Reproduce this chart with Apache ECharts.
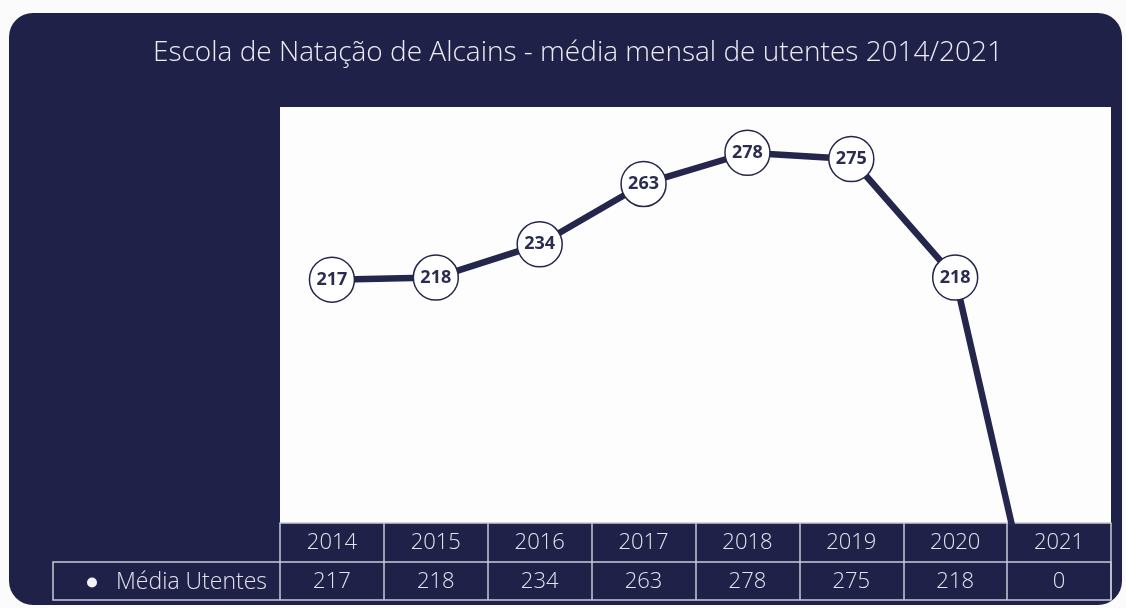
<!DOCTYPE html>
<html>
<head>
<meta charset="utf-8">
<script src="https://cdn.jsdelivr.net/npm/echarts@6/dist/echarts.min.js"></script>
<style>
  html, body { margin: 0; padding: 0; background: #fbfbfb; }
  .card {
    position: absolute; left: 9px; top: 13px; width: 1113px; height: 592px;
    background: #1f2148; border-radius: 24px;
  }
  #chart { position: absolute; left: 0; top: 0; width: 1126px; height: 608px; }
</style>
</head>
<body>
<div class="card"></div>
<div id="chart"></div>
<script>
  // dados
  const anos = ['2014', '2015', '2016', '2017', '2018', '2019', '2020', '2021'];
  const mediaUtentes = [217, 218, 234, 263, 278, 275, 218, 0];
  const serieNome = 'Média Utentes';
  const titulo = 'Escola de Natação de Alcains - média mensal de utentes 2014/2021';

  const navy = '#25264b';
  const tableLine = '#c9c9d6';
  const tableText = '#e4e4ee';

  const chart = echarts.init(document.getElementById('chart'));

  const option = {
    backgroundColor: 'transparent',
    title: {
      text: titulo,
      left: 148,
      top: 34,
      textStyle: { color: '#ececf4', fontSize: 28, fontWeight: 300, fontFamily: 'Open Sans' }
    },
    legend: {
      data: [serieNome],
      left: 82,
      top: 566,
      icon: 'circle',
      itemWidth: 10,
      itemHeight: 10,
      itemStyle: { color: '#f2f2f6', borderWidth: 0 },
      textStyle: { color: tableText, fontSize: 23, fontWeight: 300, fontFamily: 'Open Sans', padding: [0, 0, 0, 14] }
    },
    grid: {
      left: 280, right: 15, top: 107, bottom: 85,
      show: true, backgroundColor: '#fdfdfd', borderWidth: 0
    },
    xAxis: {
      type: 'category',
      data: anos,
      boundaryGap: true,
      axisLine: { show: true, lineStyle: { color: tableLine, width: 1.5 } },
      axisTick: { show: true, interval: 0, length: 77, lineStyle: { color: tableLine, width: 1.5 } },
      axisLabel: {
        interval: 0,
        margin: 0,
        formatter: function (v, i) {
          return '{a|' + v + '}\n{b|' + mediaUtentes[i] + '}';
        },
        rich: {
          a: { color: tableText, fontSize: 22, fontWeight: 300, fontFamily: 'Open Sans', lineHeight: 39, height: 39 },
          b: { color: tableText, fontSize: 22, fontWeight: 300, fontFamily: 'Open Sans', lineHeight: 39, height: 39 }
        }
      },
      splitLine: { show: false }
    },
    yAxis: { type: 'value', min: 100, max: 300, show: false },
    series: [{
      name: serieNome,
      type: 'line',
      data: mediaUtentes,
      clip: true,
      symbol: 'circle',
      symbolSize: 45,
      lineStyle: { color: navy, width: 6.5 },
      itemStyle: { color: '#ffffff', borderColor: navy, borderWidth: 1.5 },
      label: {
        show: true, position: 'inside',
        color: '#2b2d50', fontSize: 18, fontWeight: 'bold', fontFamily: 'Open Sans'
      },
      z: 3
    }],
    graphic: [{
      type: 'rect',
      shape: { x: 53, y: 562, width: 1058, height: 38 },
      style: { fill: 'none', stroke: tableLine, lineWidth: 1.5 },
      silent: true
    }]
  };

  chart.setOption(option);
</script>
</body>
</html>
